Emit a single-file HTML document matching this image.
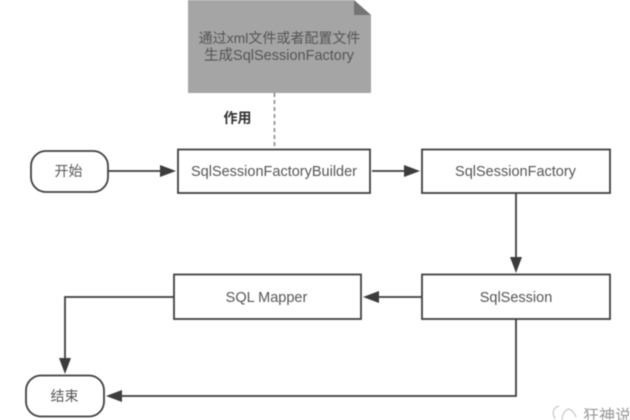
<!DOCTYPE html>
<html>
<head>
<meta charset="utf-8">
<style>
html,body{margin:0;padding:0;background:#fff;width:630px;height:420px;overflow:hidden}
svg{display:block;filter:blur(.5px)}
text{font-family:"Liberation Sans","Noto Sans CJK SC",sans-serif;fill:#555;text-anchor:middle;font-size:14.5px}
</style>
</head>
<body>
<svg width="630" height="420" viewBox="0 0 630 420" xmlns="http://www.w3.org/2000/svg">
<rect width="630" height="420" fill="#fff"/>
<!-- document -->
<polygon points="188,0 354,0 371,15 371,93 188,93" fill="#a5a5a5"/>
<polygon points="354,0 371,15 354,15" fill="#747474"/>
<line x1="274.5" y1="93" x2="274.5" y2="149" stroke="#8a8a8a" stroke-width="1.6" stroke-dasharray="4 3"/>
<text x="279.500" y="43" style="font-size:14px">通过xml文件或者配置文件</text>
<text x="279" y="60">生成SqlSessionFactory</text>
<text x="237.500" y="123" style="font-weight:bold;fill:#333;font-size:14px">作用</text>
<!-- nodes -->
<g fill="#fff" stroke="#404040" stroke-width="1.8">
<rect x="31" y="151" width="77" height="41" rx="15"/>
<rect x="178" y="149.500" width="192" height="43.500"/>
<rect x="422" y="149.500" width="188" height="43.500"/>
<rect x="422" y="274.500" width="188" height="44.500"/>
<rect x="174" y="274.500" width="187" height="44.500"/>
<rect x="26" y="375.500" width="78" height="41" rx="15"/>
</g>
<text x="68.500" y="176" style="font-size:14px">开始</text>
<text x="274" y="176">SqlSessionFactoryBuilder</text>
<text x="515.500" y="176">SqlSessionFactory</text>
<text x="516" y="302">SqlSession</text>
<text x="266.500" y="302">SQL Mapper</text>
<text x="64.500" y="401" style="font-size:14px">结束</text>
<!-- connectors -->
<g fill="none" stroke="#3c3c3c" stroke-width="1.8">
<line x1="108" y1="171" x2="162" y2="171"/>
<line x1="372" y1="171" x2="406" y2="171"/>
<line x1="516" y1="193" x2="516" y2="259"/>
<line x1="422" y1="297" x2="377" y2="297"/>
<polyline points="174,297 65,297 65,360"/>
<polyline points="516,319 516,396 120,396"/>
</g>
<g fill="#3c3c3c">
<polygon points="160,165 176,171 160,177"/>
<polygon points="404,165 420,171 404,177"/>
<polygon points="510,257 522,257 516,273"/>
<polygon points="379,291 379,303 363,297"/>
<polygon points="59,358 71,358 65,374"/>
<polygon points="122,390 122,402 106,396"/>
</g>
<!-- watermark -->
<g fill="none" stroke="#bdbdbd" stroke-width="1">
<path d="M555,419 Q550,409 559,406"/>
<path d="M562,420 Q563,410 569,409 Q574,411 576,417"/>
</g>
<text x="607" y="421" style="fill:#999;font-size:16px">狂神说</text>
</svg>
</body>
</html>
